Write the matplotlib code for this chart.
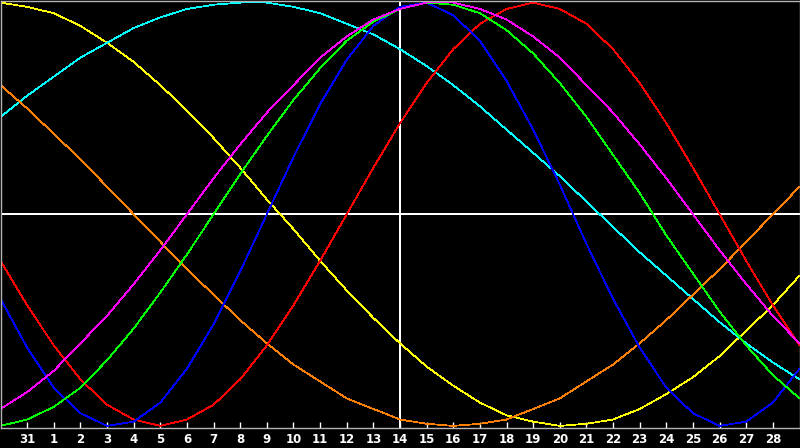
import matplotlib
matplotlib.use('Agg')
import matplotlib.pyplot as plt

# day offsets around the centre day (index 14), one value per day
days = list(range(-1, 30))
tick_days = list(range(0, 29))
tick_labels = ['31'] + [str(d) for d in range(1, 29)]

physical = [-0.40, -0.63, -0.82, -0.94, -1.00, -0.98, -0.89, -0.73, -0.52, -0.27, 0.00,
            0.27, 0.52, 0.73, 0.89, 0.98, 1.00, 0.94, 0.82, 0.63, 0.40, 0.14, -0.14,
            -0.40, -0.63, -0.82, -0.94, -1.00, -0.98, -0.89, -0.73]
emotional = [-0.22, -0.43, -0.62, -0.78, -0.90, -0.97, -1.00, -0.97, -0.90, -0.78, -0.62,
             -0.43, -0.22, 0.00, 0.22, 0.43, 0.62, 0.78, 0.90, 0.97, 1.00, 0.97, 0.90,
             0.78, 0.62, 0.43, 0.22, 0.00, -0.22, -0.43, -0.62]
intellectual = [-1.00, -0.97, -0.91, -0.82, -0.69, -0.54, -0.37, -0.19, 0.00, 0.19, 0.37,
                0.54, 0.69, 0.82, 0.91, 0.97, 1.00, 0.99, 0.95, 0.87, 0.76, 0.62, 0.46,
                0.28, 0.10, -0.10, -0.28, -0.46, -0.62, -0.76, -0.87]
intuitive = [-0.92, -0.84, -0.74, -0.61, -0.48, -0.33, -0.17, 0.00, 0.17, 0.33, 0.48,
             0.61, 0.74, 0.84, 0.92, 0.97, 1.00, 1.00, 0.97, 0.92, 0.84, 0.74, 0.61,
             0.48, 0.33, 0.17, 0.00, -0.17, -0.33, -0.48, -0.61]
aesthetic = [1.00, 0.98, 0.95, 0.89, 0.81, 0.72, 0.61, 0.49, 0.36, 0.22, 0.07, -0.07,
             -0.22, -0.36, -0.49, -0.61, -0.72, -0.81, -0.89, -0.95, -0.98, -1.00, -0.99,
             -0.97, -0.92, -0.85, -0.77, -0.67, -0.55, -0.43, -0.29]
awareness = [0.61, 0.50, 0.38, 0.26, 0.13, 0.00, -0.13, -0.26, -0.38, -0.50, -0.61,
             -0.71, -0.79, -0.87, -0.92, -0.97, -0.99, -1.00, -0.99, -0.97, -0.92, -0.87,
             -0.79, -0.71, -0.61, -0.50, -0.38, -0.26, -0.13, 0.00, 0.13]
spiritual = [0.46, 0.56, 0.65, 0.74, 0.81, 0.88, 0.93, 0.97, 0.99, 1.00, 1.00, 0.98,
             0.95, 0.90, 0.85, 0.78, 0.70, 0.61, 0.51, 0.40, 0.29, 0.18, 0.06, -0.06,
             -0.18, -0.29, -0.40, -0.51, -0.61, -0.70, -0.78]

series = [
    (aesthetic, '#ffff00'),
    (spiritual, '#00ffff'),
    (awareness, '#ff8000'),
    (emotional, '#ff0000'),
    (physical, '#0000ff'),
    (intellectual, '#00ff00'),
    (intuitive, '#ff00ff'),
]

fig = plt.figure(figsize=(8, 4.48), dpi=100, facecolor='black')
ax = fig.add_axes([0.5 / 800, 20 / 448, 799 / 800, 427.5 / 448], facecolor='black')

# centre cross
ax.axhline(0, color='white', lw=1.2, antialiased=False, zorder=1)
ax.axvline(14, color='white', lw=1.2, antialiased=False, zorder=1)

for vals, col in series:
    ax.plot(days, vals, color=col, lw=0.55, antialiased=False, zorder=2)

ax.set_xlim(-1, 29)
ax.set_ylim(-1.01, 1.01)
ax.set_yticks([])
ax.set_xticks(tick_days)
ax.set_xticklabels(tick_labels, color='white', fontsize=8.5, fontweight='bold',
                   family='DejaVu Sans')
ax.tick_params(axis='x', direction='in', length=4, width=1, color='white', pad=3.5)

for s in ax.spines.values():
    s.set_color('#b4b4b4')
    s.set_linewidth(1)

fig.savefig('out.png', dpi=100, facecolor='black')
